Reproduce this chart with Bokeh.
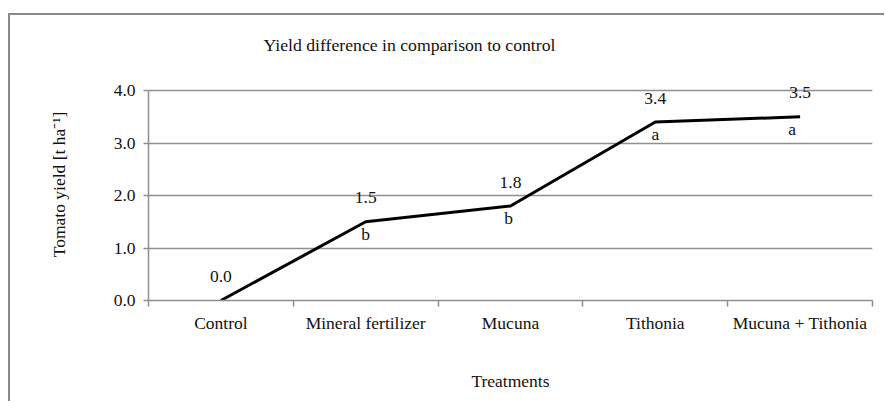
from bokeh.plotting import figure
from bokeh.models import (Range1d, FixedTicker, LabelSet, ColumnDataSource,
                          NumeralTickFormatter)
from bokeh.embed import file_html
from bokeh.resources import INLINE

# ---- data ----
categories = ["Control", "Mineral fertilizer", "Mucuna", "Tithonia", "Mucuna + Tithonia"]
yield_diff = [0.0, 1.5, 1.8, 3.4, 3.5]
letters = ["c", "b", "b", "a", "a"]
y_ticks = [0, 1, 2, 3, 4]
title_text = "Yield difference in comparison to control"
x_title = "Treatments"
y_title = "Tomato yield [t ha\u207b\u00b9]"

FONT = "Liberation Serif"
FS = "17.5px"
GRID = "#8f8f8f"
TXT = "#111111"

n = len(categories)
centers = [i + 0.5 for i in range(n)]
source = ColumnDataSource(dict(
    x=centers,
    y=yield_diff,
    vlabel=[f"{v:.1f}" for v in yield_diff],
    letter=letters,
    ldx=[18, 0, -2, 0, -8],
))

p = figure(width=876, height=388, x_range=Range1d(0, n), y_range=Range1d(0, 4.42),
           output_backend="svg", toolbar_location=None,
           min_border_left=138, min_border_right=14, min_border_top=53, min_border_bottom=103)
p.outline_line_color = None
p.background_fill_color = "white"
p.border_fill_color = "white"
p.styles = {"border-left": "2px solid #8a8a8a", "border-top": "2px solid #8a8a8a"}
p.margin = (13, 0, 0, 8)

# title
p.title.text = title_text
p.title.align = "left"
p.title.offset = 115
p.title.standoff = 27
p.title.text_font = FONT
p.title.text_font_size = "17.7px"
p.title.text_font_style = "normal"
p.title.text_color = TXT

# x axis
xa = p.xaxis[0]
xa.ticker = FixedTicker(ticks=centers, minor_ticks=list(range(n + 1)))
xa.major_label_overrides = {c: name for c, name in zip(centers, categories)}
xa.major_tick_line_color = None
xa.major_tick_out = 0
xa.major_tick_in = 0
xa.minor_tick_out = 6
xa.minor_tick_in = 0
xa.minor_tick_line_color = GRID
xa.minor_tick_line_width = 1.5
xa.axis_line_color = GRID
xa.axis_line_width = 1.5
xa.major_label_standoff = 6
xa.major_label_text_font = FONT
xa.major_label_text_font_size = FS
xa.major_label_text_color = TXT
xa.axis_label = x_title
xa.axis_label_text_font = FONT
xa.axis_label_text_font_size = FS
xa.axis_label_text_font_style = "normal"
xa.axis_label_text_color = TXT
xa.axis_label_standoff = 35

# y axis
ya = p.yaxis[0]
ya.ticker = FixedTicker(ticks=y_ticks)
ya.bounds = (0, 4)
ya.formatter = NumeralTickFormatter(format="0.0")
ya.major_tick_out = 5
ya.major_tick_in = 0
ya.minor_tick_line_color = None
ya.major_tick_line_color = GRID
ya.major_tick_line_width = 1.5
ya.axis_line_color = GRID
ya.axis_line_width = 1.5
ya.major_label_standoff = 8
ya.major_label_text_font = FONT
ya.major_label_text_font_size = FS
ya.major_label_text_color = TXT
ya.axis_label = y_title
ya.axis_label_text_font = FONT
ya.axis_label_text_font_size = FS
ya.axis_label_text_font_style = "normal"
ya.axis_label_text_color = TXT
ya.axis_label_standoff = 42

p.xgrid.grid_line_color = None
p.ygrid.ticker = FixedTicker(ticks=y_ticks)
p.ygrid.grid_line_color = GRID
p.ygrid.grid_line_width = 1.5

p.line("x", "y", source=source, line_color="black", line_width=3)

vals = LabelSet(x="x", y="y", text="vlabel", source=source, y_offset=24,
                text_align="center", text_baseline="middle",
                text_font=FONT, text_font_size=FS, text_color=TXT)
lets = LabelSet(x="x", y="y", text="letter", source=source, x_offset="ldx", y_offset=-12,
                text_align="center", text_baseline="middle",
                text_font=FONT, text_font_size=FS, text_color=TXT)
p.add_layout(vals)
p.add_layout(lets)

open("out.html", "w").write(file_html(p, INLINE))
